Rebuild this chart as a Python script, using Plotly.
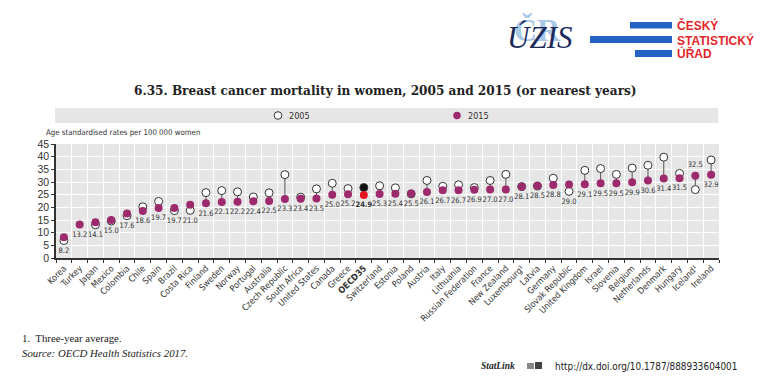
import plotly.graph_objects as go

# ---------------- data ----------------
countries = ["Korea", "Turkey", "Japan", "Mexico", "Colombia", "Chile", "Spain", "Brazil",
             "Costa Rica", "Finland", "Sweden", "Norway", "Portugal", "Australia",
             "Czech Republic", "South Africa", "United States", "Canada", "Greece", "OECD35",
             "Switzerland", "Estonia", "Poland", "Austria", "Italy", "Lithuania",
             "Russian Federation", "France", "New Zealand", "Luxembourg¹", "Latvia", "Germany",
             "Slovak Republic", "United Kingdom", "Israel", "Slovenia", "Belgium", "Netherlands",
             "Denmark", "Hungary", "Iceland¹", "Ireland"]

v2005 = [6.9, None, 13.1, 14.6, 16.7, 20.2, 22.3, 18.7, 18.8, 25.8, 26.6, 26.1, 24.1, 25.7,
         32.9, 24.0, 27.3, 29.5, 27.4, 27.8, 28.5, 27.7, 25.3, 30.6, 28.3, 28.9, 27.8, 30.6,
         33.0, 28.2, 28.4, 31.5, 26.3, 34.6, 35.3, 33.0, 35.5, 36.6, 39.8, 33.4, 27.0, 38.7]

v2015 = [8.2, 13.2, 14.1, 15.0, 17.6, 18.6, 19.7, 19.7, 21.0, 21.6, 22.1, 22.2, 22.4, 22.5,
         23.3, 23.4, 23.5, 25.0, 25.2, 24.9, 25.3, 25.4, 25.5, 26.1, 26.7, 26.7, 26.9, 27.0,
         27.0, 28.1, 28.5, 28.8, 29.0, 29.1, 29.5, 29.5, 29.9, 30.6, 31.4, 31.5, 32.5, 32.9]

y_ticks = [0, 5, 10, 15, 20, 25, 30, 35, 40, 45]
series_names = ["2005", "2015"]

# ---------------- styling ----------------
PURPLE = "#9e2a6e"
DARK = "#333333"
NARROW = "DejaVu Sans Condensed, DejaVu Sans, sans-serif"
SANS = "Liberation Sans, Arial, sans-serif"
SERIF = "Liberation Serif, Times New Roman, serif"
TSERIF = "DejaVu Serif, serif"

# the page body adds an 8px offset; the figure is sized to fill the rest of the window
OFF = 8
WIN_W, WIN_H = 770, 386
W, H = WIN_W - OFF, WIN_H - OFF
# plot area in window pixels
L, R, T, B = 56, 719, 144, 258


def px(x):
    return (x - L) / (R - L)


def py(y):
    return (B - y) / (B - T)


oecd = "OECD35"
ticktext = ["<b>%s</b>" % c if c == oecd else c for c in countries]

fig = go.Figure()

# connecting lines
lx, ly = [], []
for c, a, b in zip(countries, v2005, v2015):
    if a is None:
        continue
    lx += [c, c, None]
    ly += [a, b, None]
fig.add_trace(go.Scatter(x=lx, y=ly, mode="lines", line=dict(color="#555555", width=1),
                         hoverinfo="skip", showlegend=False))

# 2005 markers
fig.add_trace(go.Scatter(
    x=countries, y=v2005, mode="markers", name=series_names[0],
    marker=dict(symbol="circle", size=8,
                color=["#111111" if c == oecd else "white" for c in countries],
                line=dict(color=DARK, width=1)),
    showlegend=False))

# 2015 markers
fig.add_trace(go.Scatter(
    x=countries, y=v2015, mode="markers", name=series_names[1],
    marker=dict(symbol="circle", size=8,
                color=["#e3151c" if c == oecd else PURPLE for c in countries],
                line=dict(width=0)),
    showlegend=False))

# value labels (2015)
lab_y, lab_pos, lab_txt = [], [], []
for c, a, b in zip(countries, v2005, v2015):
    vals = [v for v in (a, b) if v is not None]
    if c == "Iceland¹":
        lab_y.append(max(vals))
        lab_pos.append("top center")
    else:
        lab_y.append(min(vals))
        lab_pos.append("bottom center")
    lab_txt.append("<b>%.1f</b>" % b if c == oecd else "%.1f" % b)
fig.add_trace(go.Scatter(
    x=countries, y=lab_y, mode="markers+text", text=lab_txt, textposition=lab_pos,
    marker=dict(size=9, color="rgba(0,0,0,0)", line=dict(width=0)),
    textfont=dict(family=NARROW, size=7.5, color=DARK), hoverinfo="skip",
    showlegend=False, cliponaxis=False))

fig.update_xaxes(
    type="category", categoryorder="array", categoryarray=countries,
    tickmode="array", tickvals=countries, ticktext=ticktext,
    tickangle=-45, tickfont=dict(family=NARROW, size=8.8, color=DARK),
    tickson="boundaries", ticks="outside", ticklen=3, tickcolor=DARK,
    showgrid=True, gridcolor="white", gridwidth=1.2,
    showline=True, linecolor=DARK, linewidth=1.5,
    range=[-0.5, len(countries) - 0.5], zeroline=False, fixedrange=True)

fig.update_yaxes(
    range=[0, 45], tickvals=y_ticks, tickfont=dict(family=SANS, size=10.5, color=DARK),
    ticks="outside", ticklen=3, tickcolor=DARK,
    showgrid=True, gridcolor="white", gridwidth=1.2,
    showline=True, linecolor=DARK, linewidth=1.5, zeroline=False, fixedrange=True)

shapes = []
annotations = []

# legend band
shapes.append(dict(type="rect", xref="paper", yref="paper", x0=px(55), x1=px(718),
                   y0=py(123), y1=py(108), fillcolor="#e6e6e6", line=dict(width=0), layer="below"))
for cx, fill, line_w, name in [(278, "white", 1, series_names[0]), (457, PURPLE, 0, series_names[1])]:
    shapes.append(dict(type="circle", xref="paper", yref="paper", xsizemode="pixel", ysizemode="pixel",
                       xanchor=px(cx), yanchor=py(115.5), x0=-3.8, x1=3.8, y0=-3.8, y1=3.8,
                       fillcolor=fill, line=dict(color=DARK, width=line_w)))
    annotations.append(dict(xref="paper", yref="paper", x=px(cx + 9), y=py(115.5), text=name,
                            showarrow=False, xanchor="left", yanchor="middle",
                            font=dict(family=NARROW, size=9, color=DARK)))

# title
annotations.append(dict(xref="paper", yref="paper", x=px(385), y=py(91),
                        text="<b>6.35. Breast cancer mortality in women, 2005 and 2015 (or nearest years)</b>",
                        showarrow=False, xanchor="center", yanchor="middle",
                        font=dict(family=TSERIF, size=12.1, color="#222222")))

# y-axis title
annotations.append(dict(xref="paper", yref="paper", x=px(44), y=py(133),
                        text="Age standardised rates per 100 000 women",
                        showarrow=False, xanchor="left", yanchor="middle",
                        font=dict(family=NARROW, size=7.8, color=DARK)))

# footnotes
annotations.append(dict(xref="paper", yref="paper", x=px(20), y=py(338),
                        text="1.  Three-year average.", showarrow=False,
                        xanchor="left", yanchor="middle",
                        font=dict(family=SERIF, size=10.8, color="#222222")))
annotations.append(dict(xref="paper", yref="paper", x=px(20), y=py(353),
                        text="<i>Source: OECD Health Statistics 2017.</i>", showarrow=False,
                        xanchor="left", yanchor="middle",
                        font=dict(family=SERIF, size=10.8, color="#222222")))
annotations.append(dict(xref="paper", yref="paper", x=px(479), y=py(366),
                        text="<b><i>StatLink</i></b>", showarrow=False,
                        xanchor="left", yanchor="middle",
                        font=dict(family=SERIF, size=9.5, color="#222222")))
shapes.append(dict(type="rect", xref="paper", yref="paper", x0=px(527), x1=px(534),
                   y0=py(369), y1=py(363), fillcolor="#888888", line=dict(width=0)))
shapes.append(dict(type="rect", xref="paper", yref="paper", x0=px(535), x1=px(542),
                   y0=py(369), y1=py(362), fillcolor="#444444", line=dict(width=0)))
annotations.append(dict(xref="paper", yref="paper", x=px(553), y=py(366),
                        text="http://dx.doi.org/10.1787/888933604001", showarrow=False,
                        xanchor="left", yanchor="middle",
                        font=dict(family=NARROW, size=9.9, color="#222222")))

# logos: UZIS
annotations.append(dict(xref="paper", yref="paper", x=px(537), y=py(30),
                        text="<b>ČR</b>", showarrow=False, xanchor="center", yanchor="middle",
                        font=dict(family=SERIF, size=32, color="#a9c8e8")))
annotations.append(dict(xref="paper", yref="paper", x=px(539), y=py(37),
                        text="<i>ÚZIS</i>", showarrow=False, xanchor="center", yanchor="middle",
                        font=dict(family=SERIF, size=31, color="#1c2a5a")))
# logo: CSU
BLUE = "#2463c4"
for x0, y0, y1 in [(630, 22, 28.5), (590, 36, 43), (635, 50, 57)]:
    shapes.append(dict(type="rect", xref="paper", yref="paper", x0=px(x0), x1=px(672),
                       y0=py(y1), y1=py(y0), fillcolor=BLUE, line=dict(width=0)))
for txt, yy in [("ČESKÝ", 26), ("STATISTICKÝ", 40), ("ÚŘAD", 53.5)]:
    annotations.append(dict(xref="paper", yref="paper", x=px(675), y=py(yy),
                            text="<b>%s</b>" % txt, showarrow=False, xanchor="left", yanchor="middle",
                            font=dict(family=SANS, size=12, color="#e2262b")))

fig.update_layout(
    width=W, height=H,
    margin=dict(l=L - OFF, r=WIN_W - R, t=T - OFF, b=WIN_H - B, pad=0),
    paper_bgcolor="white", plot_bgcolor="#e6e6e6",
    showlegend=False, shapes=shapes, annotations=annotations,
    font=dict(family=NARROW, color=DARK))

fig.write_html("out.html")
